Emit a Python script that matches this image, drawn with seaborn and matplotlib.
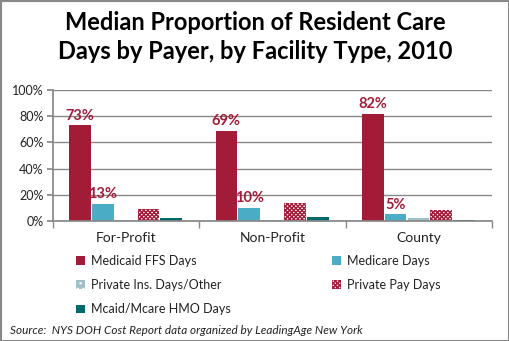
import matplotlib
matplotlib.use("Agg")
import matplotlib.pyplot as plt
import seaborn as sns
import pandas as pd
import numpy as np
from matplotlib.patches import Rectangle

categories = ["For-Profit", "Non-Profit", "County"]
payers = ["Medicaid FFS Days", "Medicare Days", "Private Ins. Days/Other",
          "Private Pay Days", "Mcaid/Mcare HMO Days"]
medicaid = [73, 69, 82]
medicare = [13, 10, 5]
private_ins = [1, 1, 2]
private_pay = [9, 14, 8.5]
hmo = [2.5, 3, 1]
yticks = [0, 20, 40, 60, 80, 100]

colors = ["#A31C37", "#4BACC6", "#9EBFC7", "#FFFFFF", "#006A6B"]
hatch_colors = [None, None, "#FFFFFF", "#A31C37", None]
hatches = [None, None, "...", "xxxxxxxx", None]

sns.set_theme(style="white")
plt.rcParams['font.family'] = ['Lato', 'DejaVu Sans']
plt.rcParams['hatch.linewidth'] = 1.0

df = pd.DataFrame({
    "Facility": categories * 5,
    "Payer": sum([[p] * 3 for p in payers], []),
    "Value": medicaid + medicare + private_ins + private_pay + hmo,
})

fig = plt.figure(figsize=(5.1, 3.41), dpi=100)
ax = fig.add_axes([0.104, 0.352, 0.861, 0.384])

sns.barplot(data=df, x="Facility", y="Value", hue="Payer", order=categories,
            hue_order=payers, palette=colors, width=0.78, ax=ax, legend=False,
            saturation=1, errorbar=None)

for i, cont in enumerate(ax.containers):
    for bar in cont:
        bar.set_linewidth(0)
        w = bar.get_width()
        bar.set_width(w * 0.95)
        if hatches[i]:
            bar.set_hatch(hatches[i])
            bar.set_edgecolor(hatch_colors[i])
            bar.set_linewidth(0)
    if i < 2:
        for bar in cont:
            h = bar.get_height()
            ax.text(bar.get_x() + bar.get_width() / 2, h + 2, f"{h:.0f}%",
                    ha="center", va="bottom", color="#A31C37",
                    fontsize=10.5, fontweight="bold")

ax.set_ylim(0, 100)
ax.set_xlim(-0.5, 2.5)
ax.set_yticks(yticks)
ax.set_yticklabels([f"{v}%" for v in yticks], fontsize=9, color="#222222")
ax.yaxis.grid(True, color="#888888", linewidth=1)
ax.set_axisbelow(True)
ax.set_xlabel("")
ax.set_ylabel("")
for s in ["top", "right"]:
    ax.spines[s].set_visible(False)
ax.spines["left"].set_color("#888888")
ax.spines["bottom"].set_color("#888888")
ax.tick_params(axis="y", which="both", left=True, length=4, color="#888888", pad=3)
ax.set_xticks([0, 1, 2])
ax.set_xticklabels(categories, fontsize=10, color="#222222")
ax.tick_params(axis="x", which="major", length=0, pad=8)
ax.set_xticks([-0.5, 0.5, 1.5, 2.5], minor=True)
ax.tick_params(axis="x", which="minor", length=5, color="#888888", bottom=True)

fig.text(0.5, 0.935, "Median Proportion of Resident Care", ha="center", va="center",
         fontsize=17, fontweight="bold", color="black")
fig.text(0.5, 0.848, "Days by Payer, by Facility Type, 2010", ha="center", va="center",
         fontsize=17, fontweight="bold", color="black")

# Legend (row-major order like the reference)
handles = []
for i in range(5):
    handles.append(Rectangle((0, 0), 1, 1, facecolor=colors[i],
                             hatch=hatches[i] if hatches[i] else None,
                             edgecolor=hatch_colors[i] if hatch_colors[i] else colors[i],
                             linewidth=0))
order = [0, 2, 4, 1, 3]
leg = fig.legend([handles[k] for k in order], [payers[k] for k in order], ncol=2,
                 loc="upper left",
                 bbox_to_anchor=(0.14, 0.267), frameon=False, fontsize=9,
                 handlelength=0.7, handleheight=0.7, handletextpad=0.5,
                 columnspacing=8.05, labelspacing=0.98, borderaxespad=0)
for t in leg.get_texts():
    t.set_color("#222222")

fig.text(0.02, 0.032, "Source:  NYS DOH Cost Report data organized by LeadingAge New York",
         ha="left", va="center", fontsize=8.5, style="italic", color="#222222")

border = Rectangle((0.001, 0.001), 0.997, 0.995, transform=fig.transFigure,
                   fill=False, edgecolor="#888888", linewidth=1.5)
fig.patches.append(border)

fig.savefig("out.png", dpi=100)
